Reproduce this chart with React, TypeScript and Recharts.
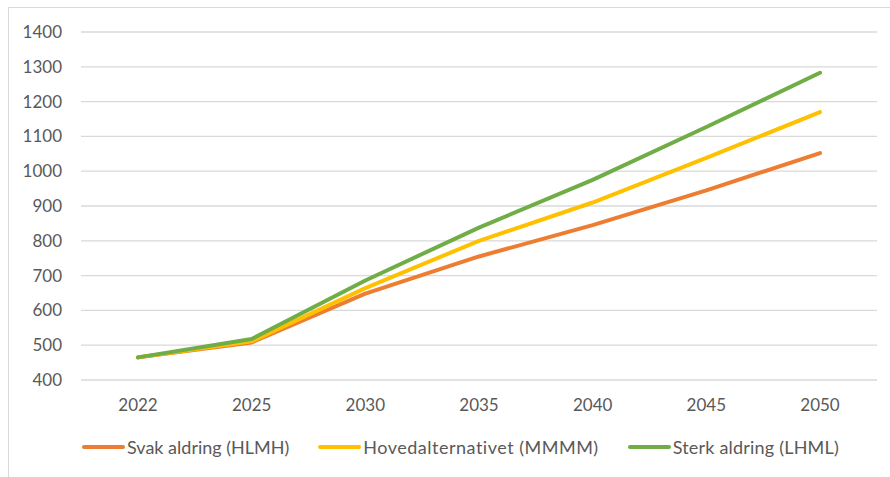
import React from 'react';
import { LineChart, Line, XAxis, YAxis, CartesianGrid, Legend } from 'recharts';

const years = ['2022', '2025', '2030', '2035', '2040', '2045', '2050'];
const svak = [465, 508, 648, 755, 845, 945, 1052];
const hoved = [465, 511, 664, 800, 910, 1038, 1170];
const sterk = [465, 518, 686, 838, 975, 1127, 1283];
const yTicks = [400, 500, 600, 700, 800, 900, 1000, 1100, 1200, 1300, 1400];

const series = [
  { key: 'svak', name: 'Svak aldring (HLMH)', color: '#ED7D31' },
  { key: 'hoved', name: 'Hovedalternativet (MMMM)', color: '#FFC000' },
  { key: 'sterk', name: 'Sterk aldring (LHML)', color: '#70AD47' },
];

const data = years.map((year, i) => ({
  year,
  svak: svak[i],
  hoved: hoved[i],
  sterk: sterk[i],
}));

const FONT = 'Lato, "Open Sans", sans-serif';
const TEXT = '#595959';
const legendGaps = [0, 29, 29];
const legendSpacing = [0, 0.5, 0.2];

const LegendContent = () => (
  <div style={{ display: 'flex', alignItems: 'center', height: 20, paddingLeft: 82, fontFamily: FONT, fontSize: 18, color: TEXT }}>
    {series.map((s, i) => (
      <div key={s.key} style={{ display: 'flex', alignItems: 'center', marginLeft: legendGaps[i] }}>
        <div style={{ width: 43, height: 4, borderRadius: 2, background: s.color, marginRight: 2 }} />
        <span style={{ whiteSpace: 'nowrap', letterSpacing: legendSpacing[i] }}>{s.name}</span>
      </div>
    ))}
  </div>
);

export default function App() {
  return (
    <div style={{ position: 'absolute', left: 0, top: 0, width: 890, height: 477, overflow: 'hidden', background: '#fff' }}>
      <div style={{ position: 'absolute', left: 8, top: 7, width: 920, height: 500, borderLeft: '1px solid #d9d9d9', borderTop: '1px solid #d9d9d9' }} />
      <div style={{ position: 'absolute', left: 0, top: 0 }}>
        <LineChart width={890} height={477} data={data} margin={{ top: 32, right: 13, left: 0, bottom: 20 }}>
          <CartesianGrid vertical={false} stroke="#d9d9d9" strokeWidth={1.3} />
          <XAxis
            dataKey="year"
            axisLine={false}
            tickLine={false}
            tickSize={0}
            tickMargin={19}
            height={57}
            padding={{ left: 57, right: 57 }}
            tick={{ fontSize: 17, fill: TEXT, fontFamily: FONT }}
            interval={0}
          />
          <YAxis
            domain={[400, 1400]}
            ticks={yTicks}
            axisLine={false}
            tickLine={false}
            tickSize={0}
            tickMargin={19}
            width={81}
            tick={{ fontSize: 17, fill: TEXT, fontFamily: FONT }}
            interval={0}
          />
          <Legend verticalAlign="bottom" content={<LegendContent />} />
          {series.map((s) => (
            <Line
              key={s.key}
              type="linear"
              dataKey={s.key}
              name={s.name}
              stroke={s.color}
              strokeWidth={4}
              strokeLinecap="round"
              strokeLinejoin="round"
              dot={false}
              activeDot={false}
              isAnimationActive={false}
            />
          ))}
        </LineChart>
      </div>
    </div>
  );
}
